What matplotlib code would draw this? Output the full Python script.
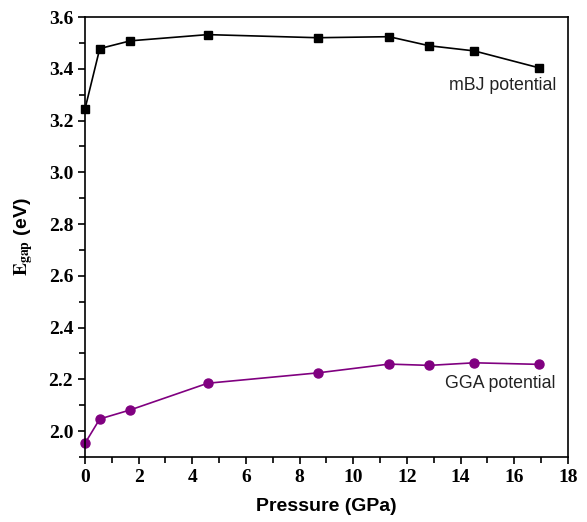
import matplotlib
matplotlib.use("Agg")
import matplotlib.pyplot as plt
from matplotlib.ticker import MultipleLocator

plt.rcParams["mathtext.fontset"] = "stix"

# Pressure (GPa) and band gaps (eV)
pressure = [0.0, 0.55, 1.69, 4.57, 8.67, 11.33, 12.83, 14.51, 16.91]
gap_mbj = [3.245, 3.478, 3.508, 3.532, 3.520, 3.524, 3.489, 3.469, 3.404]
gap_gga = [1.953, 2.047, 2.082, 2.185, 2.225, 2.259, 2.254, 2.264, 2.258]

label_mbj = "mBJ potential"
label_gga = "GGA potential"

fig = plt.figure(figsize=(5.87, 5.22), dpi=100)
ax = fig.add_axes([0.1448, 0.1245, 0.8228, 0.8429])

ax.plot(pressure, gap_mbj, color="black", marker="s", markersize=6, linewidth=1.2, clip_on=False)
ax.plot(pressure, gap_gga, color="#800080", marker="o", markersize=6.5, linewidth=1.2, clip_on=False)

ax.text(17.55, 3.335, label_mbj, ha="right", va="center", fontsize=12.8, family="Liberation Sans", color="#222222")
ax.text(17.55, 2.185, label_gga, ha="right", va="center", fontsize=12.8, family="Liberation Sans", color="#222222")

ax.set_xlim(0, 18)
ax.set_ylim(1.9, 3.6)
ax.xaxis.set_major_locator(MultipleLocator(2))
ax.xaxis.set_minor_locator(MultipleLocator(1))
ax.set_yticks([2.0, 2.2, 2.4, 2.6, 2.8, 3.0, 3.2, 3.4, 3.6])
ax.yaxis.set_minor_locator(MultipleLocator(0.1))

ax.tick_params(which="both", direction="out", top=False, right=False, width=1.2)
ax.tick_params(which="major", length=5)
ax.tick_params(which="minor", length=4)
for lab in ax.get_xticklabels() + ax.get_yticklabels():
    lab.set_family("Liberation Serif")
    lab.set_fontweight("bold")
    lab.set_fontsize(14)
for sp in ax.spines.values():
    sp.set_linewidth(1.2)

ax.set_xlabel("Pressure (GPa)", family="Liberation Sans", fontweight="bold", fontsize=14, labelpad=9)
ax.set_ylabel(r"$\mathbf{E_{gap}}$ (eV)", family="Liberation Sans", fontweight="bold", fontsize=14, labelpad=10)

fig.savefig("out.png", dpi=100)
